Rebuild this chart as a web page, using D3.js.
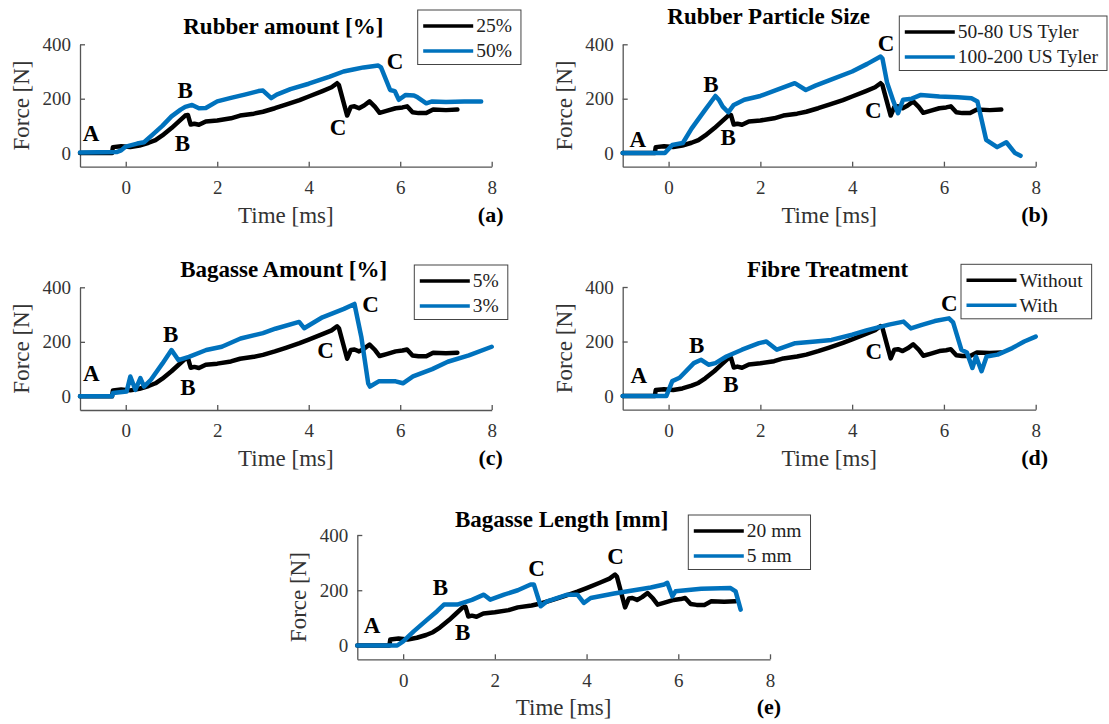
<!DOCTYPE html>
<html>
<head>
<meta charset="utf-8">
<script src="https://cdn.jsdelivr.net/npm/d3@7"></script>
<style>
  html, body { margin: 0; padding: 0; background: #fff; }
  svg { display: block; }
  .axis path, .axis line { stroke: #555; stroke-width: 1.3; }
</style>
</head>
<body>
<svg id="fig" width="1109" height="724"></svg>
<script>
// ---- data: [time ms, force N] ----
// black curve is the same reference mix in every panel
const referenceMix = [[-1,0],[-0.3,0],[-0.28,22],[-0.1,25],[0.1,22],[0.3,28],[0.5,38],[0.65,48],[0.8,65],[1.0,92],
  [1.15,115],[1.3,138],[1.36,140],[1.42,105],[1.5,108],[1.6,104],[1.75,116],[2.0,120],[2.3,128],[2.5,138],[2.8,145],
  [3.0,152],[3.26,165],[3.5,178],[3.8,195],[4.0,208],[4.3,228],[4.5,242],[4.62,257],[4.66,250],[4.84,138],[4.92,170],
  [5.0,172],[5.1,165],[5.21,175],[5.33,190],[5.45,170],[5.55,148],[5.7,155],[5.9,165],[6.05,168],[6.15,172],[6.27,150],
  [6.4,147],[6.57,147],[6.72,160],[7.0,158],[7.25,160]];

const rubber50 = [[-1,2],[-0.2,4],[-0.1,10],[0,24],[0.25,35],[0.4,40],[0.6,70],[0.8,100],[1.0,135],[1.2,160],[1.3,170],
  [1.45,177],[1.6,165],[1.75,166],[2.0,190],[2.3,203],[2.6,215],[2.9,228],[3.0,230],[3.18,202],[3.3,215],[3.6,235],
  [4.0,255],[4.46,281],[4.76,300],[5.0,308],[5.2,315],[5.52,322],[5.58,315],[5.78,232],[5.88,228],[5.97,196],[6.12,214],
  [6.3,212],[6.38,205],[6.57,183],[6.7,190],[7.0,188],[7.4,190],[7.77,190]];

const rubberFine = [[-1,0],[-0.08,0],[0.08,30],[0.31,37],[0.5,90],[0.8,160],[1.02,210],[1.1,195],[1.18,171],[1.3,150],
  [1.42,177],[1.65,196],[2.0,210],[2.4,235],[2.75,257],[2.99,232],[3.2,248],[3.54,270],[4.0,300],[4.33,328],[4.62,355],
  [4.66,348],[4.76,260],[4.9,190],[5.0,147],[5.11,196],[5.3,200],[5.5,214],[5.9,208],[6.3,205],[6.6,202],[6.73,190],
  [6.92,49],[7.16,22],[7.36,40],[7.55,0],[7.67,-10]];

const bagasse3 = [[-1,0],[-0.3,0],[-0.28,12],[0.02,18],[0.1,73],[0.21,24],[0.32,67],[0.4,36],[0.55,61],[0.8,120],
  [1.0,170],[1.15,133],[1.38,145],[1.76,170],[2.1,182],[2.51,212],[3.0,232],[3.27,248],[3.79,273],[3.9,250],[4.3,290],
  [4.77,321],[5.0,339],[5.15,218],[5.3,48],[5.34,36],[5.53,55],[5.9,55],[6.06,48],[6.28,73],[6.7,100],[7.04,127],
  [7.5,150],[8.0,182]];

const treated = [[-1,0],[-0.05,0],[0.08,55],[0.24,67],[0.55,121],[0.71,133],[0.87,115],[1.02,121],[1.26,145],[1.6,170],
  [1.97,194],[2.13,200],[2.36,170],[2.76,194],[3.2,200],[3.55,206],[4.0,225],[4.33,242],[4.8,262],[5.12,273],[5.28,248],
  [5.52,261],[5.8,275],[6.11,285],[6.2,270],[6.38,170],[6.5,160],[6.62,103],[6.7,145],[6.82,91],[6.93,145],[7.17,152],
  [7.49,176],[7.75,200],[8.0,218]];

const bagasse5mm = [[-1,0],[-0.13,0],[0,15],[0.23,51],[0.5,90],[0.74,124],[0.89,148],[1.18,148],[1.5,165],[1.76,184],
  [1.9,166],[2.2,184],[2.5,200],[2.78,221],[2.85,221],[3.0,142],[3.14,160],[3.58,184],[3.8,184],[3.94,154],[4.09,172],
  [4.6,188],[5.1,202],[5.4,210],[5.69,221],[5.76,227],[5.87,178],[5.94,196],[6.5,205],[7.14,208],[7.25,196],[7.36,130]];

// point labels A/B/C: [letter, time, force] (text centre / baseline)
const marksA = [['A',-0.76,44],['B',1.3,201],['B',1.24,8],['C',5.89,309],['C',4.64,66]];
const marksB = [['A',-0.67,24],['B',0.92,226],['B',1.3,28],['C',4.74,374],['C',4.46,128]];
const marksC = [['A',-0.75,55],['B',0.98,200],['B',1.36,4],['C',5.35,311],['C',4.37,139]];
const marksD = [['A',-0.65,48],['B',0.61,158],['B',1.36,15],['C',6.12,311],['C',4.47,136]];
const marksE = [['A',-0.68,47],['B',0.81,182],['B',1.3,21],['C',2.91,253],['C',4.63,296]];

const xTicks = [0, 2, 4, 6, 8];
const yTicks = [0, 200, 400];

const panels = [
  { tag: '(a)', title: 'Rubber amount [%]', names: ['25%', '50%'], blue: rubber50, marks: marksA },
  { tag: '(b)', title: 'Rubber Particle Size', names: ['50-80 US Tyler', '100-200 US Tyler'], blue: rubberFine, marks: marksB },
  { tag: '(c)', title: 'Bagasse Amount [%]', names: ['5%', '3%'], blue: bagasse3, marks: marksC },
  { tag: '(d)', title: 'Fibre Treatment', names: ['Without', 'With'], blue: treated, marks: marksD },
  { tag: '(e)', title: 'Bagasse Length [mm]', names: ['20 mm', '5 mm'], blue: bagasse5mm, marks: marksE }
];

// ---- layout (pixels) ----
const layout = [
  { x0: 80,    x1: 491.7,  top: 44.3,  bottom: 166.7, lx: 417.7, ly: 10,    tdx: -2.5, tdy: -10.3 },
  { x0: 622.7, x1: 1035.7, top: 44.3,  bottom: 166.7, lx: 899.3, ly: 16,    tdx: -60.5, tdy: -20.3 },
  { x0: 80,    x1: 491.7,  top: 287.3, bottom: 410,   lx: 414.3, ly: 265,   tdx: -2.2, tdy: -10.6 },
  { x0: 622.7, x1: 1035.7, top: 287,   bottom: 409.7, lx: 961,   ly: 264.3, tdx: -1.7, tdy: -10.3 },
  { x0: 357.3, x1: 770,    top: 535,   bottom: 659.3, lx: 688.3, ly: 515,   tdx: -2,   tdy: -8.3 }
];

const SERIF = '"Liberation Serif", "Times New Roman", Times, serif';
const BLACK = '#000000';
const BLUE = '#0072BD';

const svg = d3.select('#fig').attr('font-family', SERIF);

panels.forEach((p, i) => {
  const L = layout[i];
  const x = d3.scaleLinear().domain([-1, 8]).range([L.x0, L.x1]);
  const y = d3.scaleLinear().domain([-50, 400]).range([L.bottom, L.top]);
  const g = svg.append('g');

  const xAxis = g.append('g').attr('class', 'axis')
    .attr('transform', `translate(0,${L.bottom})`)
    .call(d3.axisBottom(x).tickValues(xTicks).tickFormat(d3.format('d'))
      .tickSizeInner(-5).tickSizeOuter(0).tickPadding(14));

  const yAxis = g.append('g').attr('class', 'axis')
    .attr('transform', `translate(${L.x0},0)`)
    .call(d3.axisLeft(y).tickValues(yTicks).tickFormat(d3.format('d'))
      .tickSizeInner(-5).tickSizeOuter(0).tickPadding(9));

  [xAxis, yAxis].forEach(ax => {
    ax.attr('font-family', SERIF).attr('font-size', 19);
    ax.selectAll('text').attr('fill', '#333');
  });

  const line = d3.line().x(d => x(d[0])).y(d => y(d[1]));

  [[referenceMix, BLACK], [p.blue, BLUE]].forEach(([data, col]) => {
    g.append('path')
      .datum(data)
      .attr('d', line)
      .attr('fill', 'none')
      .attr('stroke', col)
      .attr('stroke-width', 4.5)
      .attr('stroke-linejoin', 'round')
      .attr('stroke-linecap', 'round');
  });

  // A / B / C markers
  g.selectAll('text.mark')
    .data(p.marks)
    .join('text')
    .attr('class', 'mark')
    .attr('x', d => x(d[1]))
    .attr('y', d => y(d[2]))
    .attr('text-anchor', 'middle')
    .attr('font-size', 23)
    .attr('font-weight', 'bold')
    .text(d => d[0]);

  // titles and labels
  const cx = (L.x0 + L.x1) / 2;
  g.append('text')
    .attr('x', cx + L.tdx).attr('y', L.top + L.tdy)
    .attr('text-anchor', 'middle')
    .attr('font-size', 23).attr('font-weight', 'bold')
    .text(p.title);

  g.append('text')
    .attr('x', cx).attr('y', L.bottom + 56)
    .attr('text-anchor', 'middle')
    .attr('font-size', 23).attr('fill', '#333')
    .text('Time [ms]');

  g.append('text')
    .attr('transform', `translate(${L.x0 - 51},${(L.top + L.bottom) / 2}) rotate(-90)`)
    .attr('text-anchor', 'middle')
    .attr('font-size', 23).attr('fill', '#333')
    .text('Force [N]');

  g.append('text')
    .attr('x', L.x1 - 1).attr('y', L.bottom + 55)
    .attr('text-anchor', 'middle')
    .attr('font-size', 22).attr('font-weight', 'bold')
    .text(p.tag);

  // legend
  const lg = g.append('g').attr('transform', `translate(${L.lx},${L.ly})`);
  const box = lg.append('rect')
    .attr('height', 54.5)
    .attr('fill', '#fff')
    .attr('stroke', '#444')
    .attr('stroke-width', 1);
  let maxW = 0;
  p.names.forEach((name, k) => {
    const ry = 16 + k * 25;
    lg.append('line')
      .attr('x1', 5.5).attr('x2', 55.5)
      .attr('y1', ry).attr('y2', ry)
      .attr('stroke', k === 0 ? BLACK : BLUE)
      .attr('stroke-width', 3.5);
    const t = lg.append('text')
      .attr('x', 58.5).attr('y', ry).attr('dy', '0.33em')
      .attr('font-size', 19.5).attr('fill', '#222')
      .text(name);
    maxW = Math.max(maxW, t.node().getComputedTextLength());
  });
  box.attr('width', 58.5 + maxW + 9);
});
</script>
</body>
</html>
